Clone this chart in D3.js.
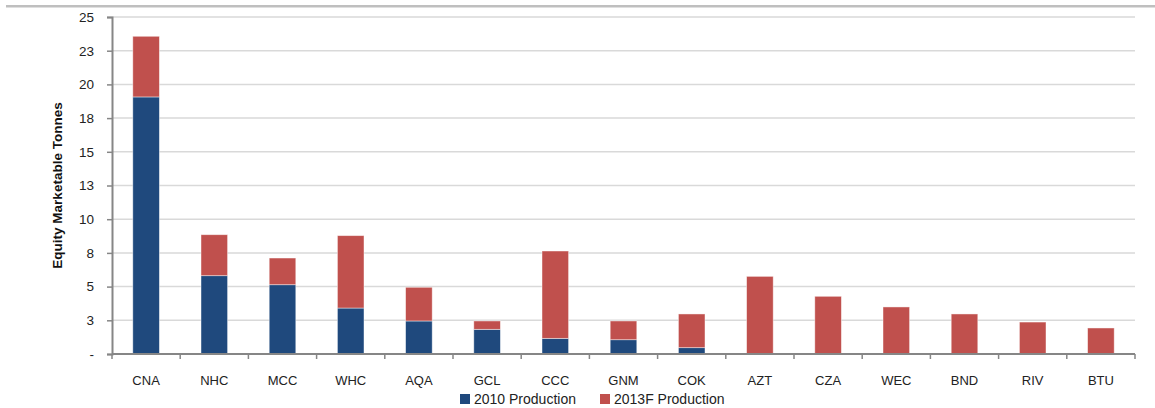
<!DOCTYPE html>
<html>
<head>
<meta charset="utf-8">
<script src="https://cdn.jsdelivr.net/npm/d3@7"></script>
<style>
  html, body { margin: 0; padding: 0; background: #fff; }
  svg { display: block; font-family: "Open Sans", "Liberation Sans", sans-serif; }
</style>
</head>
<body>
<svg id="chart" width="1155" height="408"></svg>
<script>
// Producers on the x axis
const companies = ["CNA", "NHC", "MCC", "WHC", "AQA", "GCL", "CCC", "GNM", "COK", "AZT", "CZA", "WEC", "BND", "RIV", "BTU"];
// 2010 production (bottom segment)
const production2010 = [19.07, 5.81, 5.14, 3.41, 2.45, 1.83, 1.16, 1.06, 0.47, 0, 0, 0, 0, 0, 0];
// Additional 2013F production stacked on top of 2010
const production2013F = [4.5, 3.04, 1.98, 5.37, 2.5, 0.62, 6.48, 1.39, 2.5, 5.76, 4.28, 3.49, 2.97, 2.37, 1.93];
// Y tick values and their printed labels
const yTickValues = [0, 2.5, 5, 7.5, 10, 12.5, 15, 17.5, 20, 22.5, 25];
const yTickLabels = ["-", "3", "5", "8", "10", "13", "15", "18", "20", "23", "25"];
const seriesNames = ["2010 Production", "2013F Production"];
const seriesColors = ["#1F497D", "#C0504D"];

const svg = d3.select("#chart");
const plotLeft = 112, plotRight = 1135, plotTop = 17, plotBottom = 354;

const rows = companies.map((c, i) => ({ company: c, s0: production2010[i], s1: production2013F[i] }));
const stacked = d3.stack().keys(["s0", "s1"])(rows);

const x = d3.scaleBand().domain(companies).range([plotLeft, plotRight]).paddingInner(0.61).paddingOuter(0.305);
const y = d3.scaleLinear().domain([0, 25]).range([plotBottom, plotTop]);

// Thin rule across the top of the page
svg.append("rect").attr("x", 6).attr("y", 5).attr("width", 1149).attr("height", 2.5).attr("fill", "#BFBFBF");

// Horizontal gridlines
svg.append("g")
  .selectAll("line")
  .data(yTickValues.filter(v => v > 0))
  .join("line")
  .attr("x1", plotLeft).attr("x2", plotRight)
  .attr("y1", d => y(d)).attr("y2", d => y(d))
  .attr("stroke", "#D9D9D9").attr("stroke-width", 1.5);

// Stacked bars
svg.append("g")
  .selectAll("g")
  .data(stacked)
  .join("g")
  .attr("fill", (d, i) => seriesColors[i])
  .selectAll("rect")
  .data(d => d.filter(s => s[1] - s[0] > 0))
  .join("rect")
  .attr("x", d => x(d.data.company))
  .attr("width", x.bandwidth())
  .attr("y", d => y(d[1]))
  .attr("height", d => y(d[0]) - y(d[1]))
  .attr("stroke", "rgba(255,255,255,0.55)")
  .attr("stroke-width", 0.8);

// Y axis
const yAxis = d3.axisLeft(y)
  .tickValues(yTickValues)
  .tickFormat((d, i) => yTickLabels[i])
  .tickSize(5)
  .tickPadding(13);
const gy = svg.append("g").attr("transform", `translate(${plotLeft},0)`).call(yAxis);
gy.select(".domain").attr("stroke", "#868686").attr("stroke-width", 2);
gy.selectAll(".tick line").attr("stroke", "#868686").attr("stroke-width", 1.5);
gy.selectAll(".tick text").attr("font-size", 13.5).attr("fill", "#222").attr("font-family", "'Liberation Sans', sans-serif");

// X axis: baseline plus ticks at category boundaries
const gx = svg.append("g").attr("transform", `translate(0,${plotBottom})`);
gx.append("line").attr("x1", plotLeft).attr("x2", plotRight).attr("y1", 0).attr("y2", 0)
  .attr("stroke", "#868686").attr("stroke-width", 2);
const step = x.step();
const boundaries = d3.range(companies.length + 1).map(i => plotLeft + i * step);
gx.selectAll("line.b").data(boundaries).join("line").attr("class", "b")
  .attr("x1", d => d).attr("x2", d => d).attr("y1", 0).attr("y2", 5)
  .attr("stroke", "#868686").attr("stroke-width", 1.5);
gx.selectAll("text").data(companies).join("text")
  .attr("x", d => x(d) + x.bandwidth() / 2)
  .attr("y", 31)
  .attr("text-anchor", "middle")
  .attr("font-size", 13)
  .attr("fill", "#222")
  .attr("font-family", "'Liberation Sans', sans-serif")
  .text(d => d);

// Y axis title
svg.append("text")
  .attr("transform", `translate(62,${(plotTop + plotBottom) / 2}) rotate(-90)`)
  .attr("text-anchor", "middle")
  .attr("font-size", 13.5)
  .attr("font-weight", "bold")
  .attr("fill", "#111")
  .attr("font-family", "'Liberation Sans', sans-serif")
  .text("Equity Marketable Tonnes");

// Legend
const legendX = [460, 600];
const legend = svg.append("g").selectAll("g").data(seriesNames).join("g")
  .attr("transform", (d, i) => `translate(${legendX[i]},394)`);
legend.append("rect").attr("width", 10).attr("height", 10).attr("fill", (d, i) => seriesColors[i]);
legend.append("text").attr("x", 14).attr("y", 10)
  .attr("font-size", 14).attr("fill", "#222")
  .attr("font-family", "'Liberation Sans', sans-serif")
  .text(d => d);
</script>
</body>
</html>
